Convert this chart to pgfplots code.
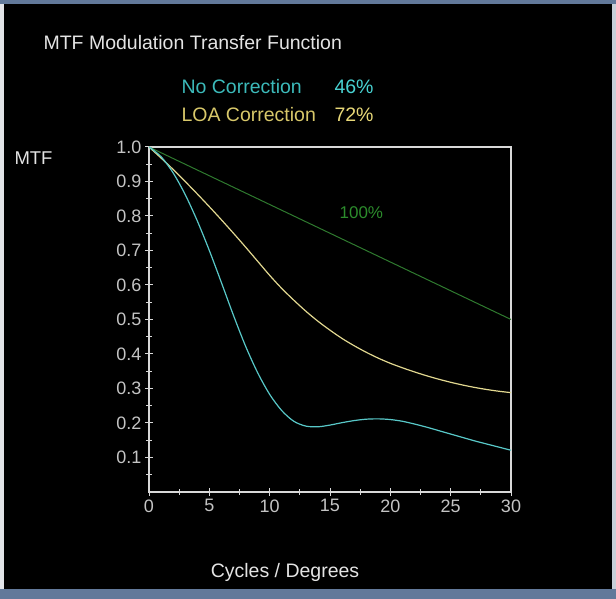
\documentclass[border=0pt]{standalone}
\usepackage{pgfplots}
\pgfplotsset{compat=1.18}
\usepackage{fontspec}
\setmainfont{Liberation Sans}
\definecolor{frameblue}{HTML}{62799A}
\definecolor{frameleft}{HTML}{E2E4E8}
\definecolor{axiscol}{HTML}{D8D8D8}
\definecolor{tickcol}{HTML}{C4C4C4}
\definecolor{cyanline}{HTML}{58C8C8}
\definecolor{cyantext}{HTML}{3CBABA}
\definecolor{cyanbright}{HTML}{48D2D2}
\definecolor{yelline}{HTML}{E2D890}
\definecolor{yeltext}{HTML}{D8C86A}
\definecolor{yelbright}{HTML}{E8D878}
\definecolor{greenline}{HTML}{2F7A2F}
\definecolor{greentext}{HTML}{2C8C2C}
\definecolor{titlecol}{HTML}{E4E4E4}
\begin{document}
\begin{tikzpicture}[x=1pt,y=1pt]
\useasboundingbox (0,0) rectangle (616,599);
\fill[frameblue] (0,0) rectangle (616,599);
\fill[frameleft] (0,10) rectangle (4,595);
\fill[frameleft!80!frameblue] (612,10) rectangle (616,595);
\fill[black] (4,10) rectangle (612,595);
\node[anchor=west, text=titlecol, font=\fontsize{19.5}{19.5}\selectfont] at (40,556) {MTF Modulation Transfer Function};
\node[anchor=west, text=cyantext, font=\fontsize{19.5}{19.5}\selectfont] at (178,512) {No Correction};
\node[anchor=west, text=cyanbright, font=\fontsize{19.5}{19.5}\selectfont] at (331,512) {46\%};
\node[anchor=west, text=yeltext, font=\fontsize{19.5}{19.5}\selectfont] at (178,484) {LOA Correction};
\node[anchor=west, text=yelbright, font=\fontsize{19.5}{19.5}\selectfont] at (331,484) {72\%};
\node[anchor=west, text=titlecol, font=\fontsize{18.5}{18.5}\selectfont] at (11,441) {MTF};
\node[text=titlecol, font=\fontsize{19.5}{19.5}\selectfont] at (285,27) {Cycles / Degrees};
\begin{axis}[
  at={(149pt,107pt)}, anchor=south west,
  scale only axis, width=362pt, height=345pt,
  xmin=0, xmax=30, ymin=0, ymax=1,
  axis line style={axiscol, line width=1.3pt},
  tick style={axiscol, line width=1pt},
  tick pos=left, tick align=center,
  xtick={0,5,10,15,20,25,30},
  ytick={0.1,0.2,0.3,0.4,0.5,0.6,0.7,0.8,0.9,1.0},
  minor xtick={2.5,7.5,12.5,17.5,22.5,27.5},
  minor ytick={0.05,0.15,0.25,0.35,0.45,0.55,0.65,0.75,0.85,0.95},
  major tick length=8pt, minor tick length=6pt,
  /pgf/number format/assume math mode=true,
  ticklabel style={font=\fontsize{18}{18}\selectfont, text=tickcol},
  yticklabel style={/pgf/number format/.cd, fixed, fixed zerofill, precision=1},
  xticklabel style={/pgf/number format/.cd, fixed, precision=0},
]
\addplot[greenline, line width=1pt] coordinates {(0,1.0) (30,0.5)};
\addplot[yelline, line width=1.2pt, smooth] coordinates {
(0,1.000) (1,0.968) (2,0.935) (3,0.900) (4,0.864) (5,0.827) (6,0.789) (7,0.750)
(8,0.710) (9,0.669) (10,0.628) (11,0.590) (12,0.556) (13,0.524) (14,0.495)
(15,0.469) (16,0.445) (17,0.424) (18,0.405) (19,0.388) (20,0.373) (21,0.360)
(22,0.348) (23,0.337) (24,0.327) (25,0.318) (26,0.310) (27,0.303) (28,0.297)
(29,0.292) (30,0.288)};
\addplot[cyanline, line width=1.2pt, smooth] coordinates {
(0,1.000) (1,0.972) (2,0.925) (3,0.862) (4,0.786) (5,0.700) (6,0.607) (7,0.512)
(8,0.423) (9,0.346) (10,0.283) (11,0.236) (12,0.205) (13,0.191) (14,0.189)
(15,0.194) (16,0.201) (17,0.207) (18,0.211) (19,0.212) (20,0.210) (21,0.205)
(22,0.197) (23,0.188) (24,0.178) (25,0.168) (26,0.158) (27,0.148) (28,0.139)
(29,0.130) (30,0.121)};
\node[text=greentext, font=\fontsize{17}{17}\selectfont] at (axis cs:17.6,0.81) {100\%};
\end{axis}
\end{tikzpicture}
\end{document}
